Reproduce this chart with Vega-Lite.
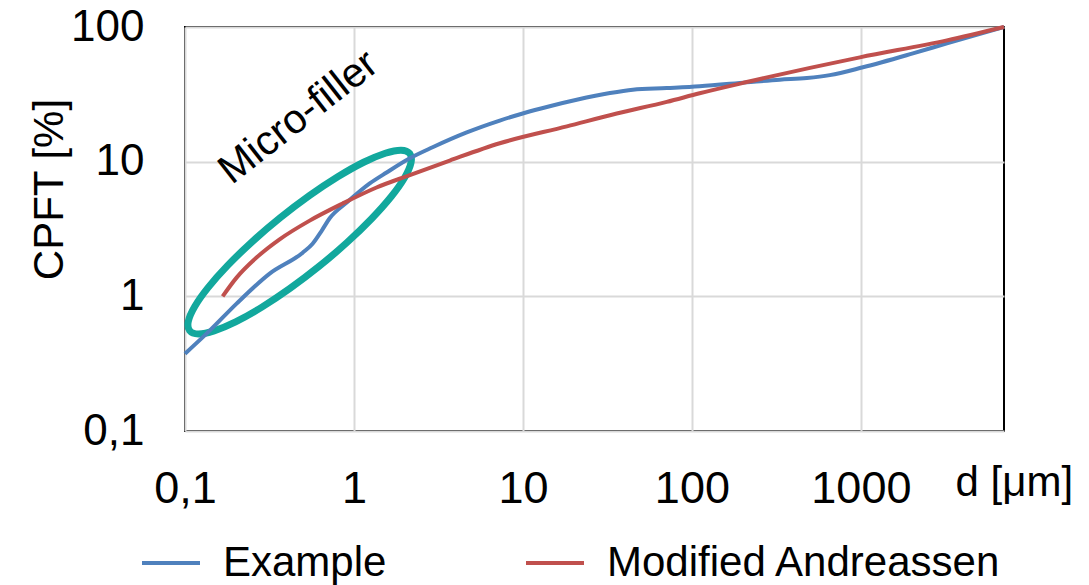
{
  "$schema": "https://vega.github.io/schema/vega-lite/v6.json",
  "width": 819,
  "height": 404,
  "autosize": {"type": "none"},
  "padding": {"left": 185, "top": 27, "right": 85, "bottom": 154},
  "background": "white",
  "config": {
    "font": "Liberation Sans",
    "view": {"stroke": "black", "strokeWidth": 2},
    "axis": {
      "grid": true, "gridColor": "#D9D9D9", "gridWidth": 2,
      "domain": false, "ticks": false, "labelFlush": false, "labelOverlap": false,
      "labelColor": "black", "labelFont": "Liberation Sans",
      "titleFont": "Liberation Sans", "titleFontWeight": "normal", "titleColor": "black"
    },
    "legend": {
      "orient": "none", "legendX": -45, "legendY": 505, "direction": "horizontal",
      "symbolType": "stroke", "symbolSize": 3364, "symbolStrokeWidth": 4,
      "labelFontSize": 42, "labelFont": "Liberation Sans", "labelColor": "black",
      "labelOffset": 21, "columnPadding": 131, "labelLimit": 600, "title": null
    }
  },
  "datasets": {
    "curves": [
      {"series": "Example", "d": 0.1, "cpft": 0.375},
      {"series": "Example", "d": 0.14, "cpft": 0.556},
      {"series": "Example", "d": 0.202, "cpft": 0.883},
      {"series": "Example", "d": 0.317, "cpft": 1.475},
      {"series": "Example", "d": 0.497, "cpft": 2.11},
      {"series": "Example", "d": 0.569, "cpft": 2.46},
      {"series": "Example", "d": 0.645, "cpft": 3.08},
      {"series": "Example", "d": 0.718, "cpft": 3.8},
      {"series": "Example", "d": 0.906, "cpft": 4.97},
      {"series": "Example", "d": 1.24, "cpft": 6.89},
      {"series": "Example", "d": 1.56, "cpft": 8.31},
      {"series": "Example", "d": 2.14, "cpft": 10.6},
      {"series": "Example", "d": 2.92, "cpft": 12.8},
      {"series": "Example", "d": 4.65, "cpft": 16.5},
      {"series": "Example", "d": 7.29, "cpft": 20.2},
      {"series": "Example", "d": 9.97, "cpft": 22.8},
      {"series": "Example", "d": 14.4, "cpft": 25.8},
      {"series": "Example", "d": 20.8, "cpft": 28.8},
      {"series": "Example", "d": 32.7, "cpft": 32.3},
      {"series": "Example", "d": 44.7, "cpft": 34.2},
      {"series": "Example", "d": 71, "cpft": 35.2},
      {"series": "Example", "d": 111, "cpft": 36.3},
      {"series": "Example", "d": 211, "cpft": 38.8},
      {"series": "Example", "d": 331, "cpft": 40.6},
      {"series": "Example", "d": 479, "cpft": 41.8},
      {"series": "Example", "d": 655, "cpft": 43.9},
      {"series": "Example", "d": 1028, "cpft": 50.2},
      {"series": "Example", "d": 2032, "cpft": 63.7},
      {"series": "Example", "d": 3230, "cpft": 75.6},
      {"series": "Example", "d": 7030, "cpft": 100},
      {"series": "Modified Andreassen", "d": 0.167, "cpft": 1.0},
      {"series": "Modified Andreassen", "d": 0.202, "cpft": 1.377},
      {"series": "Modified Andreassen", "d": 0.265, "cpft": 1.94},
      {"series": "Modified Andreassen", "d": 0.363, "cpft": 2.65},
      {"series": "Modified Andreassen", "d": 0.547, "cpft": 3.65},
      {"series": "Modified Andreassen", "d": 0.857, "cpft": 4.89},
      {"series": "Modified Andreassen", "d": 1.36, "cpft": 6.43},
      {"series": "Modified Andreassen", "d": 2.14, "cpft": 7.95},
      {"series": "Modified Andreassen", "d": 3.69, "cpft": 10.2},
      {"series": "Modified Andreassen", "d": 7.29, "cpft": 13.7},
      {"series": "Modified Andreassen", "d": 18.2, "cpft": 18.3},
      {"series": "Modified Andreassen", "d": 35.9, "cpft": 22.8},
      {"series": "Modified Andreassen", "d": 71, "cpft": 27.8},
      {"series": "Modified Andreassen", "d": 111, "cpft": 32.2},
      {"series": "Modified Andreassen", "d": 211, "cpft": 39.0},
      {"series": "Modified Andreassen", "d": 986, "cpft": 59.5},
      {"series": "Modified Andreassen", "d": 3230, "cpft": 79.6},
      {"series": "Modified Andreassen", "d": 7030, "cpft": 100}
    ],
    "ellipse": [
      {"i": 1, "d": 2.137, "cpft": 11.51},
      {"i": 2, "d": 2.175, "cpft": 9.81},
      {"i": 3, "d": 1.996, "cpft": 7.63},
      {"i": 4, "d": 1.663, "cpft": 5.51},
      {"i": 5, "d": 1.271, "cpft": 3.77},
      {"i": 6, "d": 0.909, "cpft": 2.51},
      {"i": 7, "d": 0.622, "cpft": 1.671},
      {"i": 8, "d": 0.418, "cpft": 1.145},
      {"i": 9, "d": 0.2837, "cpft": 0.828},
      {"i": 10, "d": 0.1993, "cpft": 0.646},
      {"i": 11, "d": 0.1487, "cpft": 0.554},
      {"i": 12, "d": 0.12, "cpft": 0.525},
      {"i": 13, "d": 0.1065, "cpft": 0.556},
      {"i": 14, "d": 0.1046, "cpft": 0.652},
      {"i": 15, "d": 0.114, "cpft": 0.838},
      {"i": 16, "d": 0.1369, "cpft": 1.161},
      {"i": 17, "d": 0.179, "cpft": 1.697},
      {"i": 18, "d": 0.2503, "cpft": 2.551},
      {"i": 19, "d": 0.3657, "cpft": 3.83},
      {"i": 20, "d": 0.5444, "cpft": 5.59},
      {"i": 21, "d": 0.802, "cpft": 7.72},
      {"i": 22, "d": 1.141, "cpft": 9.9},
      {"i": 23, "d": 1.532, "cpft": 11.55},
      {"i": 24, "d": 1.898, "cpft": 12.18}
    ],
    "note": [
      {"d": 0.521, "cpft": 18.1, "text": "Micro-filler"}
    ]
  },
  "layer": [
    {
      "data": {"name": "ellipse"},
      "mark": {"type": "line", "color": "#12A89D", "strokeWidth": 7, "interpolate": "cardinal-closed"},
      "encoding": {
        "x": {"field": "d", "type": "quantitative",
          "scale": {"type": "log", "domain": [0.1, 7030], "nice": false},
          "axis": {
            "values": [0.1, 1, 10, 100, 1000],
            "labelExpr": "replace(toString(datum.value), '.', ',')",
            "labelFontSize": 45, "labelPadding": 35,
            "title": "d [μm]", "titleFontSize": 42,
            "titleX": 770, "titleY": 64, "titleAlign": "left", "titleBaseline": "alphabetic"
          }
        },
        "y": {"field": "cpft", "type": "quantitative",
          "scale": {"type": "log", "domain": [0.1, 100], "nice": false},
          "axis": {
            "values": [0.1, 1, 10, 100],
            "labelExpr": "replace(toString(datum.value), '.', ',')",
            "labelFontSize": 44, "labelPadding": 41,
            "title": "CPFT [%]", "titleFontSize": 42,
            "titleX": -123, "titleY": 162, "titleAngle": -90,
            "titleAlign": "center", "titleBaseline": "alphabetic"
          }
        },
        "order": {"field": "i", "type": "quantitative"}
      }
    },
    {
      "data": {"name": "curves"},
      "mark": {"type": "line", "strokeWidth": 4, "interpolate": "monotone"},
      "encoding": {
        "x": {"field": "d", "type": "quantitative"},
        "y": {"field": "cpft", "type": "quantitative"},
        "color": {"field": "series", "type": "nominal",
          "scale": {"domain": ["Example", "Modified Andreassen"], "range": ["#4F81BD", "#C0504D"]}}
      }
    },
    {
      "data": {"name": "note"},
      "mark": {"type": "text", "fontSize": 41, "font": "Liberation Sans", "color": "black",
        "angle": 322, "align": "center", "baseline": "alphabetic"},
      "encoding": {
        "x": {"field": "d", "type": "quantitative"},
        "y": {"field": "cpft", "type": "quantitative"},
        "text": {"field": "text"}
      }
    }
  ]
}
